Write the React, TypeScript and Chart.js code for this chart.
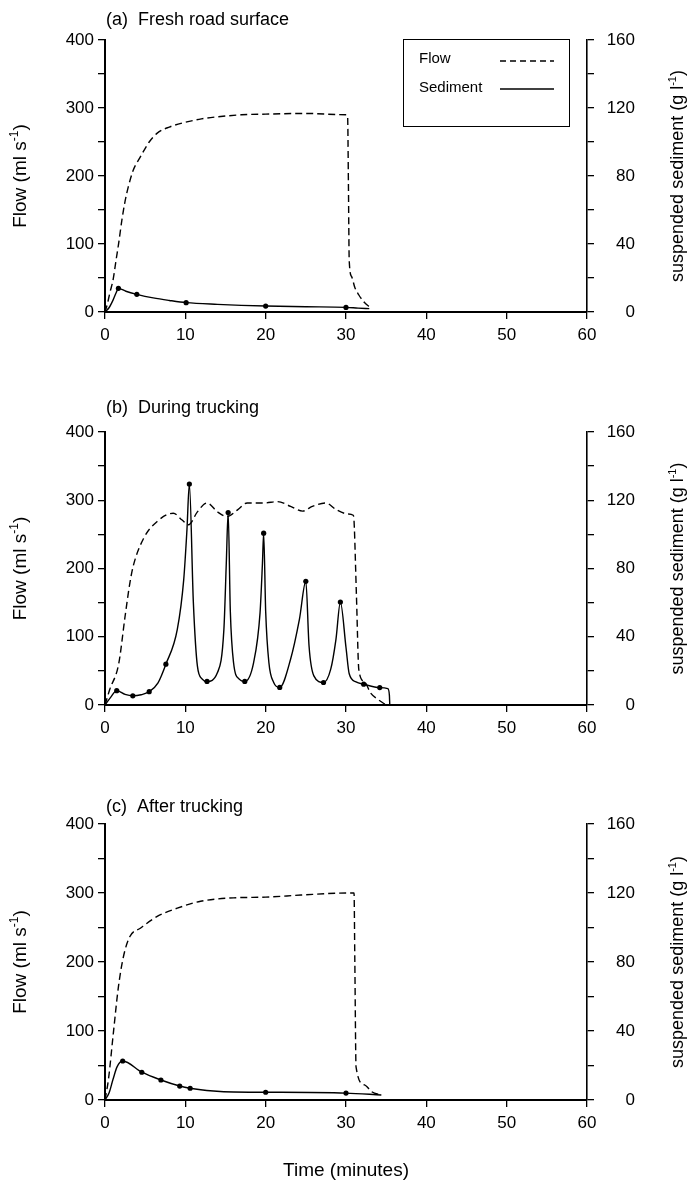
import React, { useEffect, useRef } from "react";
import { Chart, registerables } from "chart.js";

Chart.register(...registerables);

const FONT = '"Liberation Sans", Arial, Helvetica, sans-serif';

// ---------- Panel (a) Fresh road surface ----------
const flowTimeA = [0, 0.3, 0.6, 1.0, 1.4, 1.7, 2.1, 2.5, 2.9, 3.5, 4.4, 5.5, 6.5, 8, 10, 12, 14, 17, 20, 25, 30, 30.2, 30.3, 30.4, 30.7, 31.1, 31.6, 32.3, 33.1];
const flowA = [0, 12, 28, 47, 78, 101, 135, 163, 184, 208, 228, 250, 263, 272, 279, 284, 287, 290, 291, 292, 290, 288, 190, 76, 52, 36, 25, 14, 6];
const sedTimeA = [0, 0.5, 1.0, 1.4, 1.67, 2.6, 3.96, 6, 8, 10.1, 14, 20, 25, 30, 31.5, 32.9];
const sedA = [0, 2.5, 7, 11.5, 13.9, 12.2, 10.4, 8.3, 6.8, 5.5, 4.5, 3.5, 3.1, 2.7, 2.3, 2.0];
const sampleTimeA = [1.67, 3.96, 10.1, 20, 30];
const sampleA = [13.9, 10.4, 5.5, 3.5, 2.7];

// ---------- Panel (b) During trucking ----------
const flowTimeB = [0, 0.6, 1.7, 2.5, 3.1, 3.5, 4.8, 6.5, 8.5, 9.6, 10.4, 11.5, 12.7, 14, 15.2, 16.5, 17.7, 19.8, 21.5, 23.1, 24.6, 25.8, 27.5, 28.8, 30.2, 30.9, 31.0, 31.3, 31.6, 32.3, 33.1, 34.0, 35.0];
const flowB = [0, 23, 60, 130, 179, 203, 244, 269, 281, 271, 264, 283, 296, 283, 276, 286, 296, 296, 298, 291, 284, 291, 296, 286, 280, 278, 270, 160, 51, 34, 17, 8, 0];
const sedTimeB = [0, 0.7, 1.46, 2.5, 3.46, 4.5, 5.5, 6.6, 7.58, 9.0, 9.8, 10.2, 10.5, 11.0, 11.5, 12.1, 12.7, 14.0, 14.8, 15.1, 15.33, 15.6, 16.0, 16.7, 17.4, 18.5, 19.3, 19.6, 19.75, 20.0, 20.4, 21.0, 21.75, 23.1, 24.2, 25.0, 25.4, 26.0, 27.2, 28.1, 28.75, 29.3, 30.0, 30.4, 31.25, 32.2, 34.2, 35.2, 35.4, 35.45];
const sedB = [0, 4.5, 8.4, 6.2, 5.4, 6.0, 7.8, 13.0, 23.9, 44.3, 73.5, 102.6, 129.5, 60, 22.9, 15.2, 13.8, 19.0, 44.3, 83.2, 112.8, 55, 24.9, 15.2, 13.8, 24.9, 54.0, 83.2, 100.7, 55, 24.9, 13.2, 10.3, 26.8, 50.2, 72.5, 34.6, 17.1, 13.2, 21.0, 38.5, 60.3, 33.7, 18.3, 13.5, 12.2, 10.2, 9.6, 5.8, 0];
const sampleTimeB = [1.46, 3.46, 5.5, 7.58, 10.5, 12.7, 15.33, 17.4, 19.75, 21.75, 25.0, 27.2, 29.3, 32.2, 34.2];
const sampleB = [8.4, 5.4, 7.8, 23.9, 129.5, 13.8, 112.8, 13.8, 100.7, 10.3, 72.5, 13.2, 60.3, 12.2, 10.2];

// ---------- Panel (c) After trucking ----------
const flowTimeC = [0, 0.42, 1.04, 1.67, 2.3, 3.1, 4.4, 6.5, 9, 11.9, 16, 20, 24.4, 30.2, 31.0, 31.1, 31.25, 32.3, 33.2, 34.4];
const flowC = [0, 29, 97, 164, 208, 237, 249, 266, 278, 288, 293, 294, 297, 300, 300, 200, 48, 22, 12, 7];
const sedTimeC = [0, 0.5, 1.0, 1.5, 2.2, 4.58, 6.96, 9.3, 10.6, 13.5, 16, 20, 30, 34.4];
const sedC = [0, 4, 12, 19.2, 22.6, 16.1, 11.6, 8.1, 6.8, 5.2, 4.6, 4.5, 4.0, 2.9];
const sampleTimeC = [2.2, 4.58, 6.96, 9.3, 10.6, 20, 30];
const sampleC = [22.6, 16.1, 11.6, 8.1, 6.8, 4.5, 4.0];

// ---------- Text ----------
const panelTitles = ["(a)  Fresh road surface", "(b)  During trucking", "(c)  After trucking"];
const legendLabels = ["Flow", "Sediment"];
const flowTitleParts = [{ t: "Flow (ml s" }, { t: "-1", sup: true }, { t: ")" }];
const sedTitleParts = [{ t: "suspended sediment (g l" }, { t: "-1", sup: true }, { t: ")" }];
const timeTitle = "Time (minutes)";

// axis ranges
const timeRange = [0, 60, 10];
const flowRange = [0, 400, 50, 100];
const sedRange = [0, 160, 20, 40];

const toXY = (xs: number[], ys: number[]) => xs.map((x, i) => ({ x, y: ys[i] }));

type Part = { t: string; sup?: boolean };

function drawParts(ctx: CanvasRenderingContext2D, parts: Part[], size: number) {
  const big = `${size}px ${FONT}`;
  const small = `${Math.round(size * 0.62)}px ${FONT}`;
  let total = 0;
  const widths = parts.map((p) => {
    ctx.font = p.sup ? small : big;
    const w = ctx.measureText(p.t).width;
    total += w;
    return w;
  });
  let x = -total / 2;
  ctx.textAlign = "left";
  ctx.textBaseline = "alphabetic";
  parts.forEach((p, i) => {
    ctx.font = p.sup ? small : big;
    ctx.fillText(p.t, x, p.sup ? size * 0.36 - size * 0.42 : size * 0.36);
    x += widths[i];
  });
}

const PANELS = [
  { key: "a", top: 0, height: 370, padTop: 40, padBottom: 13, titleOff: 20, flowT: flowTimeA, flow: flowA, sedT: sedTimeA, sed: sedA, sampT: sampleTimeA, samp: sampleA, legend: true, xTitle: false },
  { key: "b", top: 370, height: 400, padTop: 62, padBottom: 20, titleOff: 24, flowT: flowTimeB, flow: flowB, sedT: sedTimeB, sed: sedB, sampT: sampleTimeB, samp: sampleB, legend: false, xTitle: false },
  { key: "c", top: 770, height: 413, padTop: 54, padBottom: 38, titleOff: 17, flowT: flowTimeC, flow: flowC, sedT: sedTimeC, sed: sedC, sampT: sampleTimeC, samp: sampleC, legend: false, xTitle: true },
];

function Panel({ p, idx }: { p: any; idx: number }) {
  const ref = useRef<HTMLCanvasElement | null>(null);
  useEffect(() => {
    if (!ref.current) return;
    const decor = {
      id: "decor" + p.key,
      afterDraw(chart: any) {
        const { ctx, chartArea } = chart;
        ctx.save();
        ctx.fillStyle = "#000";
        ctx.strokeStyle = "#000";
        // panel title
        ctx.font = `18px ${FONT}`;
        ctx.textAlign = "left";
        ctx.textBaseline = "middle";
        ctx.fillText(panelTitles[idx], chartArea.left + 1, chartArea.top - p.titleOff);
        const cy = (chartArea.top + chartArea.bottom) / 2;
        // left axis title
        ctx.save();
        ctx.translate(19, cy);
        ctx.rotate(-Math.PI / 2);
        drawParts(ctx, flowTitleParts, 19);
        ctx.restore();
        // right axis title
        ctx.save();
        ctx.translate(677, cy);
        ctx.rotate(-Math.PI / 2);
        drawParts(ctx, sedTitleParts, 18);
        ctx.restore();
        if (p.legend) {
          ctx.lineWidth = 1;
          ctx.strokeRect(403.5, 39.5, 166, 87);
          ctx.font = `15px ${FONT}`;
          ctx.textAlign = "left";
          ctx.textBaseline = "middle";
          ctx.fillText(legendLabels[0], 419, 59);
          ctx.fillText(legendLabels[1], 419, 88);
          ctx.lineWidth = 1.3;
          ctx.setLineDash([6, 4]);
          ctx.beginPath();
          ctx.moveTo(500, 61);
          ctx.lineTo(554, 61);
          ctx.stroke();
          ctx.setLineDash([]);
          ctx.beginPath();
          ctx.moveTo(500, 89);
          ctx.lineTo(554, 89);
          ctx.stroke();
        }
        if (p.xTitle) {
          ctx.font = `19px ${FONT}`;
          ctx.textAlign = "center";
          ctx.textBaseline = "middle";
          ctx.fillText(timeTitle, (chartArea.left + chartArea.right) / 2, 401);
        }
        ctx.restore();
      },
    };
    const tickFont = { family: FONT, size: 17 };
    const gridOpts = { drawOnChartArea: false, drawTicks: true, tickLength: 7, color: "#000", lineWidth: 1.3 };
    const chart = new Chart(ref.current, {
      type: "line",
      data: {
        datasets: [
          { label: "Flow", data: toXY(p.flowT, p.flow), yAxisID: "y", borderColor: "#000", borderWidth: 1.4, borderDash: [7, 4], pointRadius: 0, cubicInterpolationMode: "monotone", fill: false },
          { label: "Sediment", data: toXY(p.sedT, p.sed), yAxisID: "y1", borderColor: "#000", borderWidth: 1.4, pointRadius: 0, cubicInterpolationMode: "monotone", fill: false },
          { label: "Sediment samples", data: toXY(p.sampT, p.samp), yAxisID: "y1", showLine: false, pointRadius: 2.6, pointBackgroundColor: "#000", pointBorderColor: "#000", pointBorderWidth: 0 },
        ],
      },
      options: {
        animation: false,
        responsive: false,
        maintainAspectRatio: false,
        layout: { padding: { top: p.padTop, bottom: p.padBottom, left: 0, right: 57 } },
        plugins: { legend: { display: false }, tooltip: { enabled: false }, title: { display: false } },
        scales: {
          x: {
            type: "linear",
            min: timeRange[0],
            max: timeRange[1],
            ticks: { stepSize: timeRange[2], color: "#000", font: tickFont, padding: 6, maxRotation: 0, autoSkip: false },
            grid: gridOpts,
            border: { display: true, color: "#000", width: 2 },
            afterFit: (s: any) => { s.height = 45; },
          },
          y: {
            position: "left",
            min: flowRange[0],
            max: flowRange[1],
            ticks: { stepSize: flowRange[2], autoSkip: false, color: "#000", font: tickFont, padding: 4, callback: (v: any) => (v % flowRange[3] === 0 ? String(v) : "") },
            grid: gridOpts,
            border: { display: true, color: "#000", width: 2 },
            afterFit: (s: any) => { s.width = 105; },
          },
          y1: {
            position: "right",
            min: sedRange[0],
            max: sedRange[1],
            ticks: { stepSize: sedRange[2], autoSkip: false, color: "#000", font: tickFont, padding: 11, crossAlign: "far", callback: (v: any) => (v % sedRange[3] === 0 ? String(v) : "") },
            grid: gridOpts,
            border: { display: true, color: "#000", width: 1.6 },
            afterFit: (s: any) => { s.width = 48; },
          },
        },
      },
      plugins: [decor],
    } as any);
    return () => chart.destroy();
  }, []);
  return (
    <canvas
      ref={ref}
      width={692}
      height={p.height}
      style={{ position: "absolute", left: 0, top: p.top, width: 692, height: p.height, display: "block" }}
    />
  );
}

export default function App() {
  return (
    <div style={{ position: "absolute", left: 0, top: 0, width: 692, height: 1183, background: "#fff", overflow: "hidden" }}>
      {PANELS.map((p, i) => (
        <Panel key={p.key} p={p} idx={i} />
      ))}
    </div>
  );
}
